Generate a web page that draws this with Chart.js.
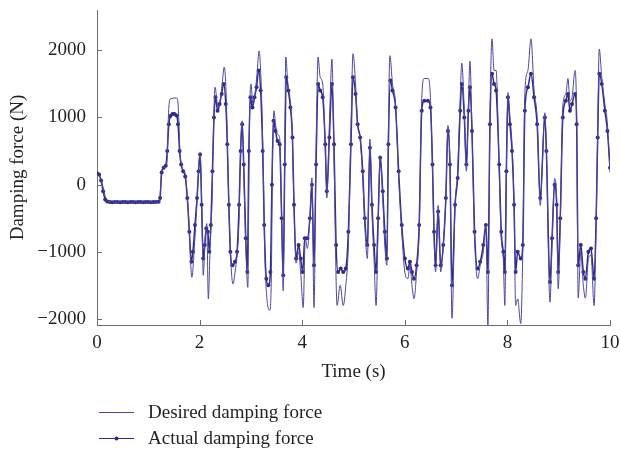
<!DOCTYPE html>
<html>
<head>
<meta charset="utf-8">
<script src="https://cdn.jsdelivr.net/npm/chart.js@4"></script>
<style>
  html, body { margin: 0; padding: 0; background: #fff; }
  #wrap { width: 621px; height: 456px; }
</style>
</head>
<body>
<div id="wrap"><canvas id="chart" width="621" height="456"></canvas></div>
<script>
// ===== DATOS =====
const xTicks = [0, 2, 4, 6, 8, 10];
const yTicks = [-2000, -1000, 0, 1000, 2000];

// fuerza deseada (línea fina)
const desiredTime = [0.00, 0.05, 0.10, 0.15, 0.20, 0.30, 0.50, 0.70, 0.90, 1.10, 1.20, 1.22, 1.26, 1.32, 1.36, 1.40, 1.44, 1.55, 1.58, 1.62,
  1.66, 1.72, 1.78, 1.85, 1.90, 1.94, 2.01, 2.05, 2.07, 2.11, 2.14, 2.17, 2.21, 2.24, 2.27, 2.30, 2.36, 2.40, 2.44, 2.48,
  2.52, 2.55, 2.59, 2.65, 2.70, 2.73, 2.77, 2.80, 2.83, 2.86, 2.90, 2.94, 2.97, 3.00, 3.04, 3.08, 3.12, 3.16, 3.20, 3.24,
  3.27, 3.31, 3.37, 3.40, 3.42, 3.45, 3.48, 3.52, 3.56, 3.60, 3.63, 3.66, 3.68, 3.72, 3.76, 3.80, 3.84, 3.88, 3.93, 3.97,
  4.02, 4.06, 4.10, 4.15, 4.19, 4.23, 4.27, 4.31, 4.35, 4.40, 4.45, 4.48, 4.53, 4.58, 4.62, 4.68, 4.74, 4.80, 4.85, 4.90,
  4.95, 4.99, 5.04, 5.08, 5.13, 5.18, 5.22, 5.27, 5.32, 5.36, 5.40, 5.44, 5.48, 5.52, 5.57, 5.61, 5.65, 5.68, 5.71, 5.76,
  5.82, 5.88, 5.94, 6.00, 6.06, 6.10, 6.14, 6.18, 6.23, 6.28, 6.33, 6.38, 6.45, 6.50, 6.54, 6.57, 6.60, 6.65, 6.70, 6.75,
  6.80, 6.84, 6.88, 6.92, 6.98, 7.03, 7.08, 7.11, 7.16, 7.20, 7.24, 7.27, 7.31, 7.36, 7.42, 7.47, 7.53, 7.58, 7.62, 7.66,
  7.70, 7.74, 7.78, 7.84, 7.88, 7.92, 7.95, 7.98, 8.01, 8.05, 8.09, 8.13, 8.16, 8.20, 8.26, 8.30, 8.34, 8.40, 8.46, 8.52,
  8.58, 8.64, 8.73, 8.76, 8.83, 8.87, 8.92, 8.96, 8.99, 9.03, 9.08, 9.14, 9.18, 9.22, 9.26, 9.32, 9.35, 9.38, 9.43, 9.48,
  9.52, 9.58, 9.63, 9.69, 9.73, 9.76, 9.79, 9.84, 9.90, 9.95, 10.00];
const desiredForce = [150, 120, 20, -150, -240, -260, -260, -260, -260, -260, -260, -250, 200, 260, 300, 1150, 1280, 1290, 1200, 450,
  250, 150, -400, -1380, -900, -390, 480, -600, -1350, -800, -580, -1700, -800, -290, 800, 1450, 1150, 1250, 1500, 1750,
  1300, 300, -800, -1480, -1250, -1050, -500, 600, 950, 200, -900, -1530, 800, 1500, 1200, 1350, 1650, 1990, 1500, 300,
  -1000, -1680, -1870, -1300, 300, 1100, 900, 750, 700, -500, -1580, 500, 1900, 1500, 1300, 900, -300, -1170, -1000, -1300,
  -1830, -800, -950, -500, 100, -1830, 500, 1900, 1600, 1500, 500, -200, 900, 1870, 400, -1800, -1500, -1800, -1500, -900,
  800, 1950, 1500, 900, 680, 100, -600, -1100, 680, -400, -1100, -1800, -600, 430, -200, -900, -1200, 800, 1920, 1500,
  1200, 100, -700, -1300, -1400, -1200, -1500, -1700, -1300, -700, 1280, 1580, 1580, 1300, 200, -800, -1300, -310, -1300, -900,
  -200, 880, 300, -1990, -300, 200, 1300, 1810, 1100, 200, 1200, 1840, 800, -800, -1400, -1200, -1000, -600, -2100, 1000,
  2170, 1700, 1700, 200, -800, -1100, -1800, 200, 1370, 1000, 600, -310, -1800, -1700, -2070, -1000, 1370, 1700, 2170, 1400,
  1000, -310, 1070, 500, -1750, -900, 90, -200, -1550, -600, 1170, 1350, 1580, 1250, 1300, 1700, 1000, -1690, -1000, -1500,
  -1690, -1100, -1050, -1800, -600, 800, 2020, 1600, 1200, 900, 180];

// fuerza real (línea con puntos)
const actualTime = [0.00, 0.04, 0.08, 0.12, 0.16, 0.20, 0.25, 0.30, 0.35, 0.40, 0.45, 0.50, 0.55, 0.60, 0.65, 0.70, 0.75, 0.80, 0.85, 0.90,
  0.95, 1.00, 1.05, 1.10, 1.15, 1.20, 1.23, 1.26, 1.30, 1.34, 1.37, 1.40, 1.43, 1.47, 1.51, 1.55, 1.58, 1.61, 1.64, 1.68,
  1.72, 1.76, 1.80, 1.84, 1.87, 1.91, 1.95, 1.98, 2.01, 2.04, 2.07, 2.10, 2.13, 2.16, 2.19, 2.22, 2.25, 2.28, 2.31, 2.35,
  2.39, 2.43, 2.47, 2.51, 2.54, 2.57, 2.60, 2.64, 2.69, 2.73, 2.77, 2.80, 2.83, 2.86, 2.90, 2.93, 2.96, 2.99, 3.03, 3.07,
  3.11, 3.15, 3.19, 3.23, 3.26, 3.30, 3.34, 3.38, 3.41, 3.44, 3.48, 3.52, 3.56, 3.60, 3.63, 3.66, 3.69, 3.73, 3.77, 3.81,
  3.84, 3.88, 3.93, 3.97, 4.01, 4.05, 4.10, 4.15, 4.19, 4.23, 4.27, 4.31, 4.35, 4.40, 4.45, 4.48, 4.53, 4.58, 4.62, 4.66,
  4.70, 4.75, 4.80, 4.85, 4.90, 4.95, 4.99, 5.04, 5.08, 5.13, 5.18, 5.22, 5.27, 5.32, 5.36, 5.40, 5.44, 5.48, 5.52, 5.57,
  5.61, 5.65, 5.68, 5.72, 5.76, 5.82, 5.88, 5.94, 6.00, 6.06, 6.10, 6.14, 6.18, 6.23, 6.28, 6.33, 6.38, 6.45, 6.50, 6.54,
  6.57, 6.60, 6.65, 6.70, 6.75, 6.80, 6.84, 6.88, 6.92, 6.98, 7.03, 7.08, 7.11, 7.16, 7.20, 7.24, 7.27, 7.31, 7.36, 7.42,
  7.47, 7.53, 7.58, 7.62, 7.66, 7.70, 7.74, 7.78, 7.84, 7.88, 7.92, 7.95, 7.98, 8.01, 8.05, 8.09, 8.13, 8.16, 8.20, 8.26,
  8.30, 8.34, 8.40, 8.46, 8.52, 8.58, 8.64, 8.73, 8.76, 8.83, 8.87, 8.92, 8.96, 8.99, 9.03, 9.08, 9.14, 9.18, 9.22, 9.26,
  9.32, 9.35, 9.38, 9.43, 9.48, 9.52, 9.58, 9.63, 9.69, 9.73, 9.76, 9.79, 9.84, 9.90, 9.95, 10.00];
const actualForce = [170, 150, 60, -100, -220, -250, -258, -262, -260, -258, -262, -260, -258, -262, -260, -258, -262, -260, -258, -262,
  -260, -258, -262, -260, -258, -255, -200, 180, 250, 280, 500, 900, 1020, 1050, 1050, 1030, 900, 500, 300, 200,
  120, -200, -700, -1150, -1000, -600, -200, 200, 450, -300, -1100, -900, -650, -700, -1000, -600, 200, 1000, 1300, 1100,
  1200, 1350, 1500, 1200, 600, -300, -1000, -1200, -1150, -1000, -300, 500, 900, 300, -800, -1300, 500, 1300, 1150, 1300,
  1450, 1700, 1400, 500, -600, -1400, -1500, -1300, 0, 950, 800, 650, 600, -500, -1350, 300, 1600, 1400, 1150, 700,
  -300, -1100, -900, -1100, -1300, -800, -800, -500, 0, -1200, 300, 1500, 1400, 1300, 600, -100, 700, 1500, 600, -900,
  -1300, -1250, -1300, -1250, -700, 600, 1600, 1350, 900, 700, 200, -500, -900, 550, -300, -900, -1300, -500, 400, -100,
  -700, -1100, 600, 1550, 1400, 1150, 200, -600, -1100, -1250, -1150, -1300, -1400, -1200, -600, 1100, 1250, 1250, 1150, 300,
  -700, -1200, -400, -1200, -900, -200, 800, 300, -1500, -300, 100, 1100, 1500, 1000, 300, 1100, 1450, 800, -700, -1250,
  -1150, -900, -600, -1300, 900, 1650, 1500, 1400, 300, -700, -1000, -1300, 200, 1300, 900, 500, -300, -1300, -1000, -1100,
  -900, 1100, 1450, 1650, 1300, 900, -200, 1000, 500, -1450, -800, 0, -300, -1300, -500, 1000, 1250, 1350, 1100, 1200,
  1350, 900, -1200, -900, -1300, -1400, -1000, -950, -1400, -500, 700, 1650, 1500, 1100, 800, 250];

// ===== ESTILOS =====
const desiredColor = '#4a45a3';
const actualColor = '#2f2a88';
const axisColor = '#6d6e71';
const textColor = '#231f20';
const fontFamily = '"Liberation Serif", "DejaVu Serif", serif';

function toPoints(ts, vs) {
  return ts.map((t, i) => ({ x: t, y: vs[i] }));
}

// ticks hacia adentro + leyenda dibujada a mano
const extrasPlugin = {
  id: 'extras',
  afterDraw(chart) {
    const ctx = chart.ctx;
    const xs = chart.scales.x, ys = chart.scales.y;
    const area = chart.chartArea;
    ctx.save();
    ctx.strokeStyle = axisColor;
    ctx.lineWidth = 1;
    ctx.beginPath();
    xTicks.forEach(v => {
      const px = Math.round(xs.getPixelForValue(v)) + 0.5;
      ctx.moveTo(px, area.bottom);
      ctx.lineTo(px, area.bottom - 5);
    });
    yTicks.forEach(v => {
      const py = Math.round(ys.getPixelForValue(v)) + 0.5;
      ctx.moveTo(area.left, py);
      ctx.lineTo(area.left + 5, py);
    });
    ctx.stroke();

    // leyenda
    const items = [
      { label: 'Desired damping force', color: desiredColor, dot: false, y: 412 },
      { label: 'Actual damping force', color: actualColor, dot: true, y: 438 }
    ];
    ctx.font = '19px ' + fontFamily;
    ctx.textBaseline = 'middle';
    items.forEach(it => {
      ctx.strokeStyle = it.color;
      ctx.lineWidth = 1.2;
      ctx.beginPath();
      ctx.moveTo(99, it.y + 0.5);
      ctx.lineTo(134, it.y + 0.5);
      ctx.stroke();
      if (it.dot) {
        ctx.fillStyle = it.color;
        ctx.beginPath();
        ctx.arc(116.5, it.y + 0.5, 2, 0, Math.PI * 2);
        ctx.fill();
      }
      ctx.fillStyle = textColor;
      ctx.fillText(it.label, 148, it.y + 1);
    });
    ctx.restore();
  }
};

const ctx = document.getElementById('chart').getContext('2d');
new Chart(ctx, {
  type: 'line',
  data: {
    datasets: [
      { label: 'Desired damping force', data: toPoints(desiredTime, desiredForce), borderColor: desiredColor, borderWidth: 1, pointRadius: 0, tension: 0.3, cubicInterpolationMode: 'monotone' },
      { label: 'Actual damping force', data: toPoints(actualTime, actualForce), borderColor: actualColor, backgroundColor: actualColor, borderWidth: 1.5, pointRadius: 2, pointBorderWidth: 0, tension: 0.3, cubicInterpolationMode: 'monotone' }
    ]
  },
  options: {
    responsive: false,
    animation: false,
    devicePixelRatio: 1,
    layout: { padding: { top: 10, right: 11, bottom: 73, left: 0 } },
    plugins: { legend: { display: false }, tooltip: { enabled: false } },
    scales: {
      x: {
        type: 'linear', min: 0, max: 10,
        border: { color: axisColor, width: 1 },
        grid: { drawOnChartArea: false, drawTicks: false },
        afterBuildTicks: s => { s.ticks = xTicks.map(v => ({ value: v })); },
        ticks: { padding: 7, maxRotation: 0, color: textColor, font: { family: fontFamily, size: 19 } },
        title: { display: true, text: 'Time (s)', color: textColor, font: { family: fontFamily, size: 19 }, padding: { top: 0, bottom: 0 } },
        afterFit: s => { s.height = 58; s.paddingLeft = 0; s.paddingRight = 0; }
      },
      y: {
        min: -2090, max: 2600,
        border: { color: axisColor, width: 1 },
        grid: { drawOnChartArea: false, drawTicks: false },
        afterBuildTicks: s => { s.ticks = yTicks.map(v => ({ value: v })); },
        ticks: { padding: 11, color: textColor, font: { family: fontFamily, size: 19 },
          callback: v => String(v).replace('-', '\u2212') },
        title: { display: true, text: 'Damping force (N)', color: textColor, font: { family: fontFamily, size: 19 }, padding: { top: 7, bottom: 0 } },
        afterFit: s => { s.width = 97; s.paddingTop = 0; s.paddingBottom = 0; }
      }
    }
  },
  plugins: [extrasPlugin]
});
</script>
</body>
</html>
